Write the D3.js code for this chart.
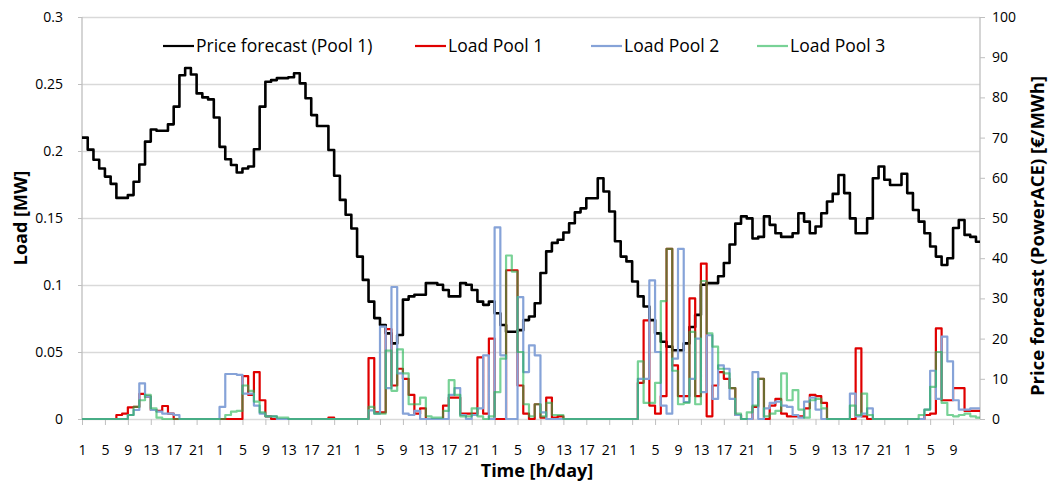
<!DOCTYPE html>
<html>
<head>
<meta charset="utf-8">
<script src="https://cdn.jsdelivr.net/npm/d3@7"></script>
<style>
body { margin: 0; background: #fff; }
text { font-family: "Open Sans", sans-serif; fill: #000; }
.axis path { display: none; }
.axis line { stroke: #bfbfbf; }
.axis text { font-size: 14px; }
</style>
</head>
<body>
<div class="chart"></div>
<script>
// hourly values, index 0 = hour 1 of day 1
const price = [
  70, 67, 64.5, 62.3, 60.3, 58.5, 55, 55, 55.7, 59,
  63.3, 69, 72, 71.7, 71.7, 73.3, 77.7, 85.5, 87.3, 85.7,
  81, 80, 79.5, 75, 67.7, 64.6, 63.2, 61.3, 62.3, 62.8,
  67.1, 77.7, 83.9, 84.3, 84.8, 84.8, 85, 86, 83.5, 79.8,
  75.6, 72.9, 72.9, 66.9, 60.5, 54.5, 50.8, 47.4, 40.4, 34.6,
  29.2, 25.1, 23.4, 21.3, 18.8, 20.9, 29.7, 30.5, 30.9, 30.9,
  33.8, 33.8, 33.4, 32.1, 30.5, 30.5, 33.8, 33.4, 32.1, 29.2,
  28.4, 29.2, 26.3, 23.4, 21.7, 21.7, 22.1, 24.6, 25.5, 28.8,
  36.3, 41.7, 43.8, 44.6, 46.4, 48.7, 51.4, 52.4, 54.9, 54.9,
  59.9, 56.6, 51.6, 44.2, 40.4, 39.2, 34.2, 30.5, 28, 24.6,
  21.3, 19.2, 18, 17.1, 17.1, 18.8, 22.9, 25.9, 33.4, 33.8,
  33.8, 35.5, 38.8, 43.4, 48.6, 50.4, 49.9, 44.9, 45.3, 50.4,
  48.3, 46.2, 45.3, 45.3, 46.2, 51.2, 49.1, 46.2, 47.9, 51.2,
  54.1, 56, 60.7, 56.2, 49.9, 46.2, 46.2, 49.9, 59.9, 62.8,
  59.5, 58.2, 58.2, 61, 56.2, 52, 49.1, 46.2, 42.9, 40.4,
  38.3, 40, 47.5, 49.5, 45.8, 45.3, 44.1
];

const load1 = [
  0, 0, 0, 0, 0, 0, 0.003, 0.004, 0.0087, 0.009,
  0.0187, 0.0167, 0.0067, 0.006, 0.0097, 0.004, 0, 0, 0, 0,
  0, 0, 0, 0, 0, 0, 0, 0, 0.032, 0.018,
  0.035, 0.014, 0.002, 0, 0, 0, 0, 0, 0, 0,
  0, 0, 0, 0.001, 0, 0, 0, 0, 0, 0,
  0.0455, 0.005, 0.005, 0.067, 0.025, 0.0375, 0.03, 0.018, 0.004, 0.008,
  0, 0, 0, 0.01, 0.016, 0.016, 0.004, 0.004, 0.004, 0.046,
  0.004, 0.06, 0, 0, 0.111, 0.111, 0.025, 0.004, 0, 0.011,
  0.001, 0.016, 0.001, 0.002, 0, 0, 0, 0, 0, 0,
  0, 0, 0, 0, 0, 0, 0, 0.027, 0.0736, 0.01,
  0.004, 0.017, 0.127, 0.04, 0.017, 0.017, 0.09, 0.017, 0.116, 0.002,
  0.025, 0.035, 0.03, 0.023, 0.003, 0, 0, 0.009, 0.03, 0,
  0.01, 0.015, 0.004, 0.002, 0.002, 0.002, 0.008, 0.018, 0.017, 0.012,
  0, 0, 0, 0, 0, 0.0527, 0.002, 0, 0, 0,
  0, 0, 0, 0, 0, 0, 0, 0.003, 0.004, 0.0677,
  0.014, 0.014, 0.023, 0.023, 0.006, 0.006, 0.006
];

const load2 = [
  0, 0, 0, 0, 0, 0, 0, 0, 0.003, 0.0067,
  0.0266, 0.0167, 0.0067, 0.0055, 0.004, 0.004, 0.003, 0, 0, 0,
  0, 0, 0, 0, 0.009, 0.0336, 0.0336, 0.033, 0.019, 0.019,
  0.01, 0.004, 0.002, 0.002, 0, 0, 0, 0, 0, 0,
  0, 0, 0, 0, 0, 0, 0, 0, 0, 0,
  0.0065, 0.004, 0.069, 0.023, 0.0985, 0.034, 0.004, 0.003, 0.006, 0,
  0, 0, 0, 0, 0.018, 0.023, 0.003, 0, 0.003, 0.008,
  0.0475, 0, 0.143, 0.0475, 0, 0, 0.091, 0.035, 0.055, 0.0475,
  0.005, 0, 0, 0, 0, 0, 0, 0, 0, 0,
  0, 0, 0, 0, 0, 0, 0, 0.03, 0.03, 0.1035,
  0.05, 0.01, 0.004, 0.045, 0.127, 0.0127, 0.03, 0.06, 0.02, 0.0625,
  0.015, 0.04, 0.0375, 0.015, 0.003, 0, 0, 0.035, 0, 0.008,
  0.012, 0.013, 0.01, 0.009, 0.003, 0.001, 0.013, 0.016, 0.007, 0,
  0, 0, 0, 0, 0.019, 0.002, 0.004, 0.008, 0, 0,
  0, 0, 0, 0, 0, 0, 0, 0.007, 0.036, 0.015,
  0.0614, 0.043, 0.014, 0.007, 0.007, 0.008, 0.008
];

const load3 = [
  0, 0, 0, 0, 0, 0, 0, 0, 0.003, 0.009,
  0.014, 0.018, 0.008, 0.001, 0, 0, 0, 0, 0, 0,
  0, 0, 0, 0, 0, 0.003, 0.0055, 0.006, 0.025, 0.021,
  0.013, 0.005, 0.002, 0.002, 0.001, 0.001, 0, 0, 0, 0,
  0, 0, 0, 0, 0, 0, 0, 0, 0, 0,
  0.009, 0.004, 0.004, 0.051, 0.021, 0.052, 0.034, 0.011, 0.011, 0.016,
  0.002, 0.001, 0.001, 0.006, 0.029, 0.018, 0.002, 0.002, 0.008, 0.002,
  0, 0.002, 0.02, 0.045, 0.122, 0.11, 0.05, 0.011, 0.002, 0.011,
  0.002, 0.012, 0.003, 0.003, 0, 0, 0, 0, 0, 0,
  0, 0, 0, 0, 0, 0, 0, 0.043, 0.012, 0.012,
  0.027, 0.088, 0.127, 0.036, 0.011, 0.012, 0.065, 0.011, 0.103, 0.064,
  0.054, 0.0375, 0.034, 0.023, 0.004, 0, 0.005, 0.01, 0.03, 0.002,
  0.004, 0.006, 0.034, 0.014, 0.0216, 0.007, 0.001, 0.014, 0.015, 0.008,
  0, 0, 0, 0, 0.01, 0.003, 0.019, 0.003, 0, 0,
  0, 0, 0, 0, 0, 0, 0.003, 0.007, 0.024, 0.05,
  0.012, 0.003, 0.002, 0.003, 0.004, 0.002, 0.001
];

const loadTicks = [0, 0.05, 0.1, 0.15, 0.2, 0.25, 0.3];
const priceTicks = [0, 10, 20, 30, 40, 50, 60, 70, 80, 90, 100];
const dayHours = [1, 5, 9, 13, 17, 21];
const dayCount = 7;
const hoursShown = 156.7;

const series = [
  {name: "Price forecast (Pool 1)", values: price, color: "#000000", axis: "right", width: 2.6, opacity: 1},
  {name: "Load Pool 1", values: load1, color: "#e00000", axis: "left", width: 2.2, opacity: 1},
  {name: "Load Pool 2", values: load2, color: "#86a3d8", axis: "left", width: 2.2, opacity: 1},
  {name: "Load Pool 3", values: load3, color: "#1eb450", axis: "left", width: 2.2, opacity: 0.6}
];

const W = 1059, H = 482;
const margin = {top: 17, right: 79, bottom: 63, left: 82};
const width = W - margin.left - margin.right,
      height = H - margin.top - margin.bottom;

const svg = d3.select(".chart").append("svg")
  .attr("width", W)
  .attr("height", H)
  .append("g")
  .attr("transform", "translate(" + margin.left + "," + margin.top + ")");

const xScale = d3.scaleLinear().domain([0, hoursShown]).range([0, width]);
const yLoad = d3.scaleLinear().domain([0, 0.3]).range([height, 0]);
const yPrice = d3.scaleLinear().domain([0, 100]).range([height, 0]);

// gridlines
svg.append("g")
  .attr("class", "grid")
  .call(d3.axisLeft(yLoad).tickValues(loadTicks).tickSize(-width).tickFormat(""))
  .call(g => g.select(".domain").remove())
  .call(g => g.selectAll("line").attr("stroke", "#d9d9d9").attr("stroke-width", 1.3));

// left axis
svg.append("g")
  .attr("class", "axis y-axis")
  .call(d3.axisLeft(yLoad).tickValues(loadTicks).tickSize(4).tickPadding(15)
    .tickFormat(d => String(+d.toFixed(2))));

svg.append("line")
  .attr("x1", 0).attr("x2", 0)
  .attr("y1", 0).attr("y2", height)
  .attr("stroke", "#bfbfbf").attr("stroke-width", 1.3);

// right axis
svg.append("g")
  .attr("class", "axis y2-axis")
  .attr("transform", "translate(" + width + ",0)")
  .call(d3.axisRight(yPrice).tickValues(priceTicks).tickSize(5).tickPadding(7));

svg.append("line")
  .attr("x1", width).attr("x2", width)
  .attr("y1", 0).attr("y2", height)
  .attr("stroke", "#bfbfbf").attr("stroke-width", 1.3);

// x axis: a label every 4 hours, only where there is an hour of data
const xTicks = [];
for (let day = 0; day < dayCount; day++) {
  dayHours.forEach(h => {
    const idx = day * 24 + h - 1;
    if (idx < price.length - 1) xTicks.push(idx);
  });
}

svg.append("g")
  .attr("class", "axis x-axis")
  .attr("transform", "translate(0," + height + ")")
  .call(d3.axisBottom(xScale).tickValues(xTicks).tickSize(6).tickPadding(20)
    .tickFormat(i => (i % 24) + 1));

// lines
const stepLine = (yScale) => d3.line()
  .x(d => xScale(d[0]))
  .y(d => yScale(d[1]))
  .curve(d3.curveStepAfter);

series.forEach(s => {
  const pts = s.values.map((v, i) => [i, v]);
  pts.push([hoursShown, s.values[s.values.length - 1]]);
  svg.append("path")
    .datum(pts)
    .attr("fill", "none")
    .attr("stroke", s.color)
    .attr("stroke-width", s.width)
    .attr("stroke-opacity", s.opacity)
    .attr("stroke-linejoin", "round")
    .attr("d", stepLine(s.axis === "left" ? yLoad : yPrice));
});

// legend
const legendX = [81, 333, 509, 675];
const legend = svg.append("g").attr("class", "legend");
series.forEach((s, i) => {
  const g = legend.append("g").attr("transform", "translate(" + legendX[i] + ",29)");
  g.append("line")
    .attr("x1", 0).attr("x2", 31)
    .attr("stroke", s.color)
    .attr("stroke-width", 2.2)
    .attr("stroke-opacity", s.opacity);
  g.append("text")
    .attr("x", 33)
    .attr("dy", "0.35em")
    .style("font-size", "17.5px")
    .text(s.name);
});

// axis titles
svg.append("text")
  .attr("transform", "translate(" + (21 - margin.left) + "," + (height / 2) + ") rotate(-90)")
  .attr("text-anchor", "middle")
  .attr("dy", "0.35em")
  .style("font-size", "18px")
  .style("font-weight", "bold")
  .text("Load [MW]");

svg.append("text")
  .attr("transform", "translate(" + (width + 58) + "," + (height / 2 + 18) + ") rotate(-90)")
  .attr("text-anchor", "middle")
  .attr("dy", "0.35em")
  .style("font-size", "18.5px")
  .style("font-weight", "bold")
  .text("Price forecast (PowerACE) [€/MWh]");

svg.append("text")
  .attr("x", 455)
  .attr("y", height + 58)
  .attr("text-anchor", "middle")
  .style("font-size", "18px")
  .style("font-weight", "bold")
  .text("Time [h/day]");
</script>
</body>
</html>
